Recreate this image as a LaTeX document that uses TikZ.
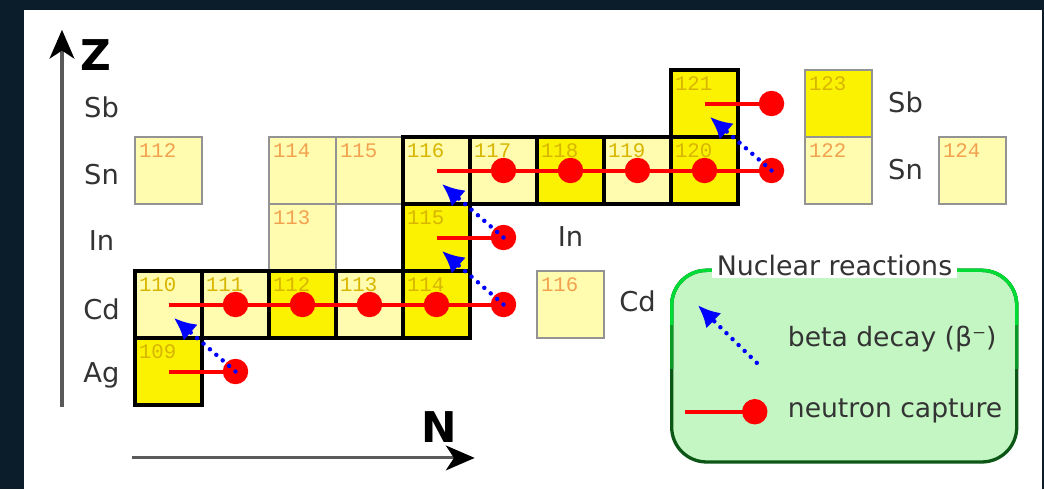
\documentclass[tikz,border=0pt]{standalone}
\usepackage{fontspec}
\setmainfont{DejaVu Sans}
\newfontfamily\numfont{Liberation Mono}
\usepackage{tikz}
\usetikzlibrary{positioning,calc,arrows.meta}
\usepackage{xcolor}

\definecolor{bgnavy}{HTML}{0B1C2B}
\definecolor{brightyel}{HTML}{FAF200}
\definecolor{paleyel}{HTML}{FFFBAF}
\definecolor{numorange}{HTML}{F2A24E}
\definecolor{numdark}{HTML}{D8B600}
\definecolor{labgray}{HTML}{333333}
\definecolor{legfill}{HTML}{C3F6C3}
\definecolor{legbright}{HTML}{00DC35}
\definecolor{legmid}{HTML}{0A9A25}
\definecolor{legdark}{HTML}{0C5716}
\definecolor{axisgray}{HTML}{5A5A5A}

\tikzset{
  cell/.style={rectangle,anchor=south west,minimum size=1cm,inner sep=0pt,outer sep=0pt,
    line width=0.9pt,draw=gray!85,fill=paleyel},
  pathcell/.style={cell,draw=black,line width=1.3pt},
  numtxt/.style={anchor=north west,inner xsep=1.5pt,inner ysep=2.8pt,font=\numfont\fontsize{8.8}{9}\selectfont},
  elem/.style={anchor=base,font=\fontsize{11.6}{13}\selectfont,text=labgray},
  axislabel/.style={font=\bfseries\fontsize{18}{20}\selectfont},
  axis/.style={axisgray,line width=1.3pt,-{Stealth[length=4.3mm,width=3.7mm,inset=1.2mm,black]}},
  capture/.style={red,line width=1.7pt},
  ndot/.style={red},
  betadecay/.style={blue,line width=1.9pt,line cap=round,dash pattern=on 0pt off 3.6pt,
    -{Latex[length=3.3mm,width=3.2mm]}},
  legendbox/.style={rectangle,anchor=south west,rounded corners=0.52cm,fill=legfill,draw=legdark,
    line width=1.4pt,outer sep=0pt,minimum width=5.15cm,minimum height=2.86cm},
  legtxt/.style={anchor=base west,font=\fontsize{11.3}{13}\selectfont,text=labgray}
}

\begin{document}
\begin{tikzpicture}
  \fill[bgnavy] (-2.015,-1.254) rectangle (13.567,6.045);
  \fill[white] (-1.657,-1.254) rectangle (13.537,5.896);
  \useasboundingbox (-2.015,-1.254) rectangle (13.567,6.045);

  % nuclides off the path
  \foreach \nm/\c/\r/\num in {sn112/0/3/112,sn114/2/3/114,sn115/3/3/115,in113/2/2/113,
      cd116/6/1/116,sn122/10/3/122,sn124/12/3/124}
    \node[cell,label={[numtxt,text=numorange]north west:\num}] (\nm) at (\c,\r) {};
  \node[cell,fill=brightyel,label={[numtxt,text=numdark]north west:123}] (sb123) at (10,4) {};

  % nuclides on the path
  \foreach \nm/\c/\r/\num in {cd110/0/1/110,cd111/1/1/111,cd113/3/1/113,
      sn116/4/3/116,sn117/5/3/117,sn119/7/3/119}
    \node[pathcell,label={[numtxt,text=numdark]north west:\num}] (\nm) at (\c,\r) {};
  \foreach \nm/\c/\r/\num in {ag109/0/0/109,cd112/2/1/112,cd114/4/1/114,in115/4/2/115,
      sn118/6/3/118,sn120/8/3/120,sb121/8/4/121}
    \node[pathcell,fill=brightyel,label={[numtxt,text=numdark]north west:\num}] (\nm) at (\c,\r) {};

  \coordinate (ag110) at (1.5,0.5);
  \coordinate (cd115) at (5.5,1.5);
  \coordinate (in116) at (5.5,2.5);
  \coordinate (sn121) at (9.5,3.5);
  \coordinate (sb122) at (9.5,4.5);

  \foreach \a/\b in {ag109/ag110,cd110/cd111,cd111/cd112,cd112/cd113,cd113/cd114,cd114/cd115,
      in115/in116,sn116/sn117,sn117/sn118,sn118/sn119,sn119/sn120,sn120/sn121,sb121/sb122}
    \draw[capture] (\a.center) -- (\b.center);
  \foreach \b in {ag110,cd111,cd112,cd113,cd114,cd115,in116,sn117,sn118,sn119,sn120,sn121,sb122}
    \fill[ndot] (\b.center) circle (0.19);

  \foreach \a/\b in {ag110/cd110,cd115/in115,in116/sn116,sn121/sb121} {
    \coordinate (\b-tip) at ($(\b.south west)+(0.58,0.3)$);
    \draw[betadecay] (\a.center) -- (\b-tip);
  }

  % element names
  \foreach \nm/\x/\y/\t in {lsb/-0.5/4.29/Sb,lsn/-0.5/3.29/Sn,lin/-0.5/2.31/In,lcd/-0.5/1.27/Cd,
      lag/-0.5/0.34/Ag,rin/6.5/2.36/In,rcd/7.5/1.39/Cd,rsb/11.5/4.36/Sb,rsn/11.5/3.36/Sn}
    \node[elem] (\nm) at (\x,\y) {\t};

  % axes
  \coordinate (z0) at (-1.09,-0.03);
  \coordinate (z1) at (-1.09,5.6);
  \draw[axis] (z0) -- (z1);
  \node[axislabel] (zlab) at (-0.58,5.22) {Z};
  \coordinate (n0) at (-0.04,-0.79);
  \coordinate (n1) at (5.07,-0.79);
  \draw[axis] (n0) -- (n1);
  \node[axislabel] (nlab) at (4.54,-0.33) {N};

  % legend
  \node[legendbox] (legend) at (8.01,-0.85) {};
  \begin{scope}
    \clip (7.8,0.55) rectangle (13.4,2.3);
    \draw[legmid,line width=1.4pt,rounded corners=0.52cm] (legend.south west) rectangle (legend.north east);
  \end{scope}
  \begin{scope}
    \clip (7.8,1.2) rectangle (13.4,2.3);
    \draw[legbright,line width=1.4pt,rounded corners=0.52cm] (legend.south west) rectangle (legend.north east);
  \end{scope}
  \node[fill=white,anchor=base,inner xsep=2pt,inner ysep=1pt,font=\fontsize{11.4}{13}\selectfont,text=labgray]
    (legtitle) at ($(legend.north)+(-0.145,-0.07)$) {Nuclear reactions};

  \coordinate (lbs) at (9.28,0.63);
  \coordinate (lbe) at (8.40,1.49);
  \draw[betadecay] (lbs) -- (lbe);
  \node[legtxt] (lbtxt) at (9.62,0.87) {beta decay (β⁻)};
  \coordinate (lcs) at (8.21,-0.10);
  \coordinate (lce) at (9.25,-0.10);
  \draw[capture] (lcs) -- (lce);
  \fill[ndot] (lce) circle (0.19);
  \node[legtxt] (lctxt) at (9.62,-0.19) {neutron capture};
\end{tikzpicture}
\end{document}
